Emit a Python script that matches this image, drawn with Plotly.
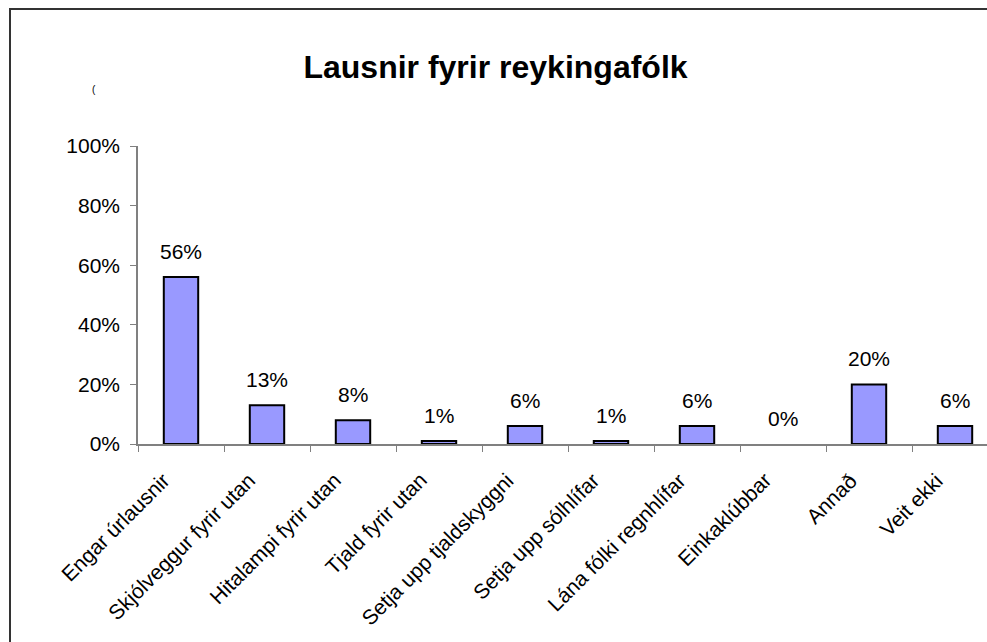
import plotly.graph_objects as go

categories = ["Engar úrlausnir", "Skjólveggur fyrir utan", "Hitalampi fyrir utan",
              "Tjald fyrir utan", "Setja upp tjaldskyggni", "Setja upp sólhlífar",
              "Lána fólki regnhlífar", "Einkaklúbbar", "Annað", "Veit ekki"]
values = [56, 13, 8, 1, 6, 1, 6, 0, 20, 6]
y_ticks = [0, 20, 40, 60, 80, 100]
title_text = "Lausnir fyrir reykingafólk"

FONT = "Liberation Sans, Arial, sans-serif"
W, H = 987, 642
L, R, T, B = 138, 0, 146, 198
pw, ph = W - L - R, H - T - B

def px2paper(x, y):
    return (x - L) / pw, (H - B - y) / ph

fig = go.Figure()
fig.add_trace(go.Bar(
    x=categories, y=values, width=0.4,
    marker=dict(color="#9999FF",
                line=dict(color="black", width=[0 if v == 0 else 2 for v in values])),
    hoverinfo="skip",
))

for c, v in zip(categories, values):
    fig.add_annotation(x=c, y=v, text=f"{v}%", showarrow=False, yshift=26,
                       yanchor="middle", font=dict(size=21, color="black", family=FONT))

# rotated category labels
for c in categories:
    fig.add_annotation(x=c, y=0, text=c, showarrow=False, textangle=-45,
                       xanchor="right", yanchor="top", xshift=-5, yshift=-22,
                       font=dict(size=21, color="black", family=FONT))

# frame
x0, y0 = px2paper(10, 9)
x1, y1 = px2paper(1000, 660)
fig.add_shape(type="rect", xref="paper", yref="paper", x0=x0, y0=y1, x1=x1, y1=y0,
              line=dict(color="#333333", width=2), fillcolor="rgba(0,0,0,0)")

mx, my = px2paper(90, 82)
fig.add_annotation(xref="paper", yref="paper", x=mx, y=my, text="(", showarrow=False,
                   font=dict(size=10, color="black", family=FONT))

fig.update_layout(
    width=W, height=H,
    margin=dict(l=L, r=R, t=T, b=B, pad=0),
    paper_bgcolor="white", plot_bgcolor="white",
    showlegend=False,
    font=dict(family=FONT, color="black", size=21),
    title=dict(text=f"<b>{title_text}</b>", x=495.5 / W, xanchor="center",
               y=1 - 67 / H, yanchor="middle", xref="container", yref="container",
               font=dict(size=32, family=FONT, color="black")),
    bargap=0.6,
)
fig.update_xaxes(
    type="category", range=[-0.5, -0.5 + pw / 86],
    showline=True, linecolor="#808080", linewidth=1.5,
    ticks="outside", ticklen=6, tickcolor="#808080", tickson="boundaries",
    showgrid=False, showticklabels=False, fixedrange=True,
)
fig.update_yaxes(
    range=[0, 100], tickvals=y_ticks, ticktext=[f"{t}%" for t in y_ticks],
    showline=True, linecolor="#808080", linewidth=1.5,
    ticks="outside", ticklen=6, tickcolor="#808080",
    showgrid=False, zeroline=False, ticklabelstandoff=6,
    tickfont=dict(size=21, family=FONT, color="black"), fixedrange=True,
)

fig.write_html("out.html", config={"displayModeBar": False},
               post_script="document.body.style.margin='0';document.body.style.overflow='hidden';")
